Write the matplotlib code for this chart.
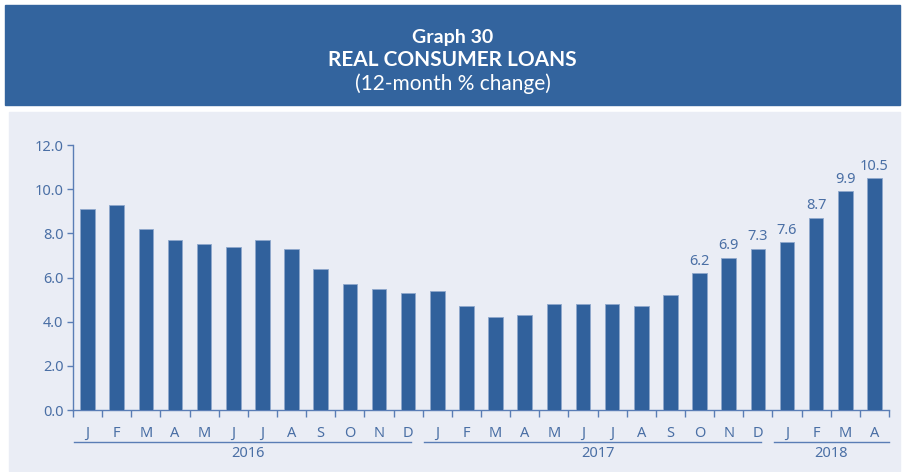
import matplotlib.pyplot as plt
import matplotlib.patches as mpatches
import numpy as np

months = ['J', 'F', 'M', 'A', 'M', 'J', 'J', 'A', 'S', 'O', 'N', 'D',
          'J', 'F', 'M', 'A', 'M', 'J', 'J', 'A', 'S', 'O', 'N', 'D',
          'J', 'F', 'M', 'A']
values = [9.1, 9.3, 8.2, 7.7, 7.5, 7.4, 7.7, 7.3, 6.4, 5.7, 5.5, 5.3,
          5.4, 4.7, 4.2, 4.3, 4.8, 4.8, 4.8, 4.7, 5.2, 6.2, 6.9, 7.3,
          7.6, 8.7, 9.9, 10.5]
years = ['2016', '2017', '2018']
year_counts = [12, 12, 4]
labeled_from = 21  # value labels shown from Oct 2017 on

banner = '#33649e'
panel = '#eaedf5'
bar_col = '#31619c'
txt = '#4a6fa5'
axis_col = '#5a7db5'

plt.rcParams['font.family'] = ['Noto Sans', 'DejaVu Sans']

fig = plt.figure(figsize=(9.05, 4.72), dpi=100)
W, H = 905, 472

# title banner and panel background
fig.patches.append(mpatches.Rectangle((5 / W, 1 - 105 / H), 895 / W, 100 / H,
                                      transform=fig.transFigure, color=banner, zorder=-2))
fig.patches.append(mpatches.Rectangle((9 / W, 1 - 471 / H), 891 / W, 359 / H,
                                      transform=fig.transFigure, color=panel, zorder=-2))
fig.text(0.5, 1 - 38 / H, 'Graph 30', color='white', ha='center', va='center',
         fontsize=14, fontweight='bold', family=['Lato', 'DejaVu Sans'])
fig.text(0.5, 1 - 60 / H, 'REAL CONSUMER LOANS', color='white', ha='center', va='center',
         fontsize=15, fontweight='bold', family=['Lato', 'DejaVu Sans'])
fig.text(0.5, 1 - 84 / H, '(12-month % change)', color='white', ha='center', va='center',
         fontsize=15, family=['Lato', 'DejaVu Sans'])

ax = fig.add_axes([73 / W, 62 / H, 816 / W, 265 / H])
ax.set_facecolor(panel)
x = np.arange(len(values))
ax.bar(x, values, width=0.5, color=bar_col, edgecolor='#8fa8cc', linewidth=0.6, zorder=3)

for i in range(labeled_from, len(values)):
    ax.text(x[i], values[i] + 0.2, f'{values[i]:.1f}', ha='center', va='bottom',
            color=txt, fontsize=10.5)

ax.set_xlim(-0.5, len(values) - 0.5)
ax.set_ylim(0, 12)
ax.set_yticks(np.arange(0, 12.1, 2))
ax.set_yticklabels([f'{v:.1f}' for v in np.arange(0, 12.1, 2)])
ax.set_xticks(np.arange(-0.5, len(values), 1))
ax.set_xticklabels([])
ax.tick_params(axis='x', direction='out', length=5, color=axis_col, width=1)
ax.tick_params(axis='y', direction='out', length=4, color=axis_col, width=1,
               labelcolor=txt, labelsize=10.5, pad=3)
for s in ['top', 'right']:
    ax.spines[s].set_visible(False)
for s in ['left', 'bottom']:
    ax.spines[s].set_color(axis_col)
    ax.spines[s].set_linewidth(1)

# month labels
for i, m in enumerate(months):
    ax.text(x[i], -1.05, m, ha='center', va='center', color=txt, fontsize=10.5,
            clip_on=False)

# year groupings
start = 0
for yr, n in zip(years, year_counts):
    a = start - 0.45
    b = start + n - 0.9 if start + n < len(values) else start + n - 0.5
    ax.plot([a, b], [-1.45, -1.45], color=axis_col, lw=1, clip_on=False)
    ax.text((start + start + n - 1) / 2, -1.95, yr, ha='center', va='center',
            color=txt, fontsize=10.5, clip_on=False)
    start += n

fig.savefig('out.png', dpi=100)
